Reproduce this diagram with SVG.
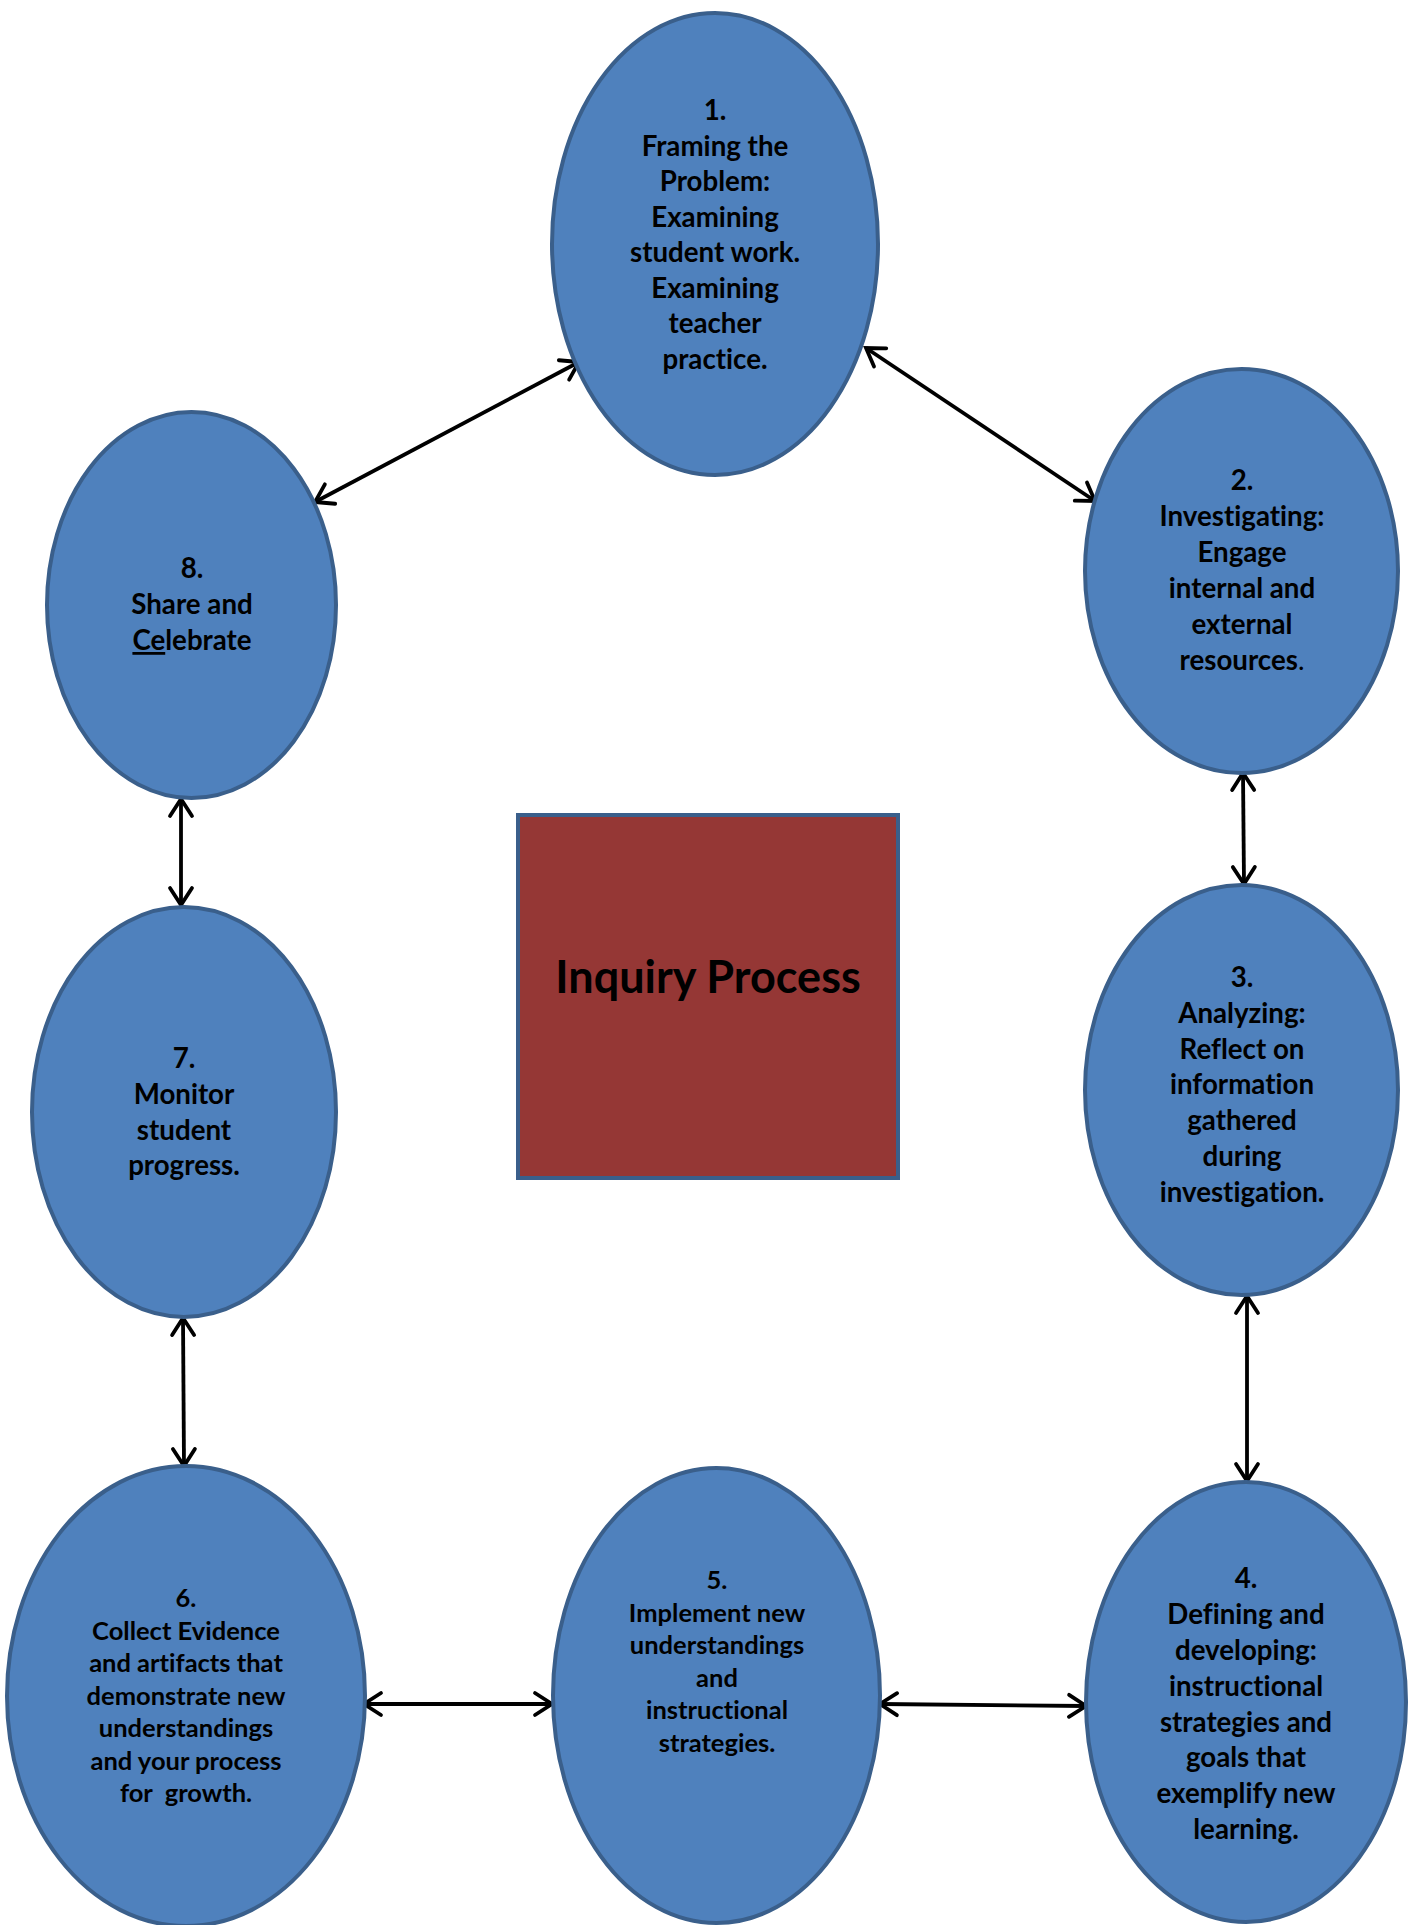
<svg xmlns="http://www.w3.org/2000/svg" width="1413" height="1925" viewBox="0 0 1413 1925">
<style>
.node{fill:#4F81BD;stroke:#3A5F8B;stroke-width:4}
.t{font-family:Lato,"Liberation Sans",sans-serif;font-weight:700;font-size:27.7px;fill:#000;text-anchor:middle;font-variant-ligatures:none}
.s{font-size:25.5px}
.title{font-family:Lato,"Liberation Sans",sans-serif;font-weight:700;font-size:45px;fill:#000;text-anchor:middle;font-variant-ligatures:none}
.c{stroke:#000;stroke-width:3.8;fill:none}
</style>
<defs>
<marker id="ah" markerUnits="userSpaceOnUse" viewBox="-22 -14 26 28" refX="0" refY="0" markerWidth="26" markerHeight="28" orient="auto-start-reverse">
<path d="M-17,-11 L0,0 L-17,11" fill="none" stroke="#000" stroke-width="3.8" stroke-linecap="round" stroke-linejoin="miter"/>
</marker>
</defs>
<rect width="1413" height="1925" fill="#fff"/>
<g id="connectors">
<line class="c" x1="315" y1="502" x2="579" y2="362" marker-start="url(#ah)" marker-end="url(#ah)"/>
<line class="c" x1="866" y1="348" x2="1095" y2="501" marker-start="url(#ah)" marker-end="url(#ah)"/>
<line class="c" x1="1243" y1="773" x2="1244" y2="884" marker-start="url(#ah)" marker-end="url(#ah)"/>
<line class="c" x1="1247" y1="1296" x2="1247" y2="1481" marker-start="url(#ah)" marker-end="url(#ah)"/>
<line class="c" x1="880" y1="1704" x2="1086" y2="1706" marker-start="url(#ah)" marker-end="url(#ah)"/>
<line class="c" x1="364" y1="1704" x2="552" y2="1704" marker-start="url(#ah)" marker-end="url(#ah)"/>
<line class="c" x1="183" y1="1318" x2="184" y2="1466" marker-start="url(#ah)" marker-end="url(#ah)"/>
<line class="c" x1="181" y1="799" x2="181" y2="905" marker-start="url(#ah)" marker-end="url(#ah)"/>
</g>
<g id="center">
<rect x="518" y="815" width="380" height="363" fill="#953735" stroke="#3A5F8B" stroke-width="4"/>
<text class="title" x="708" y="993">Inquiry Process</text>
</g>
<g id="n1">
<ellipse class="node" cx="715" cy="244" rx="163" ry="231"/>
<text class="t" x="715" y="120">1.</text>
<text class="t" x="715" y="155.5">Framing the</text>
<text class="t" x="715" y="191">Problem:</text>
<text class="t" x="715" y="226.5">Examining</text>
<text class="t" x="715" y="262">student work.</text>
<text class="t" x="715" y="297.5">Examining</text>
<text class="t" x="715" y="333">teacher</text>
<text class="t" x="715" y="368.5">practice.</text>
</g>
<g id="n2">
<ellipse class="node" cx="1241.5" cy="571" rx="156.5" ry="202"/>
<text class="t" x="1242" y="490">2.</text>
<text class="t" x="1242" y="526">Investigating:</text>
<text class="t" x="1242" y="562">Engage</text>
<text class="t" x="1242" y="598">internal and</text>
<text class="t" x="1242" y="634">external</text>
<text class="t" x="1242" y="670">resources<tspan font-weight="400">.</tspan></text>
</g>
<g id="n3">
<ellipse class="node" cx="1241.5" cy="1090" rx="156.5" ry="205"/>
<text class="t" x="1242" y="987">3.</text>
<text class="t" x="1242" y="1023">Analyzing:</text>
<text class="t" x="1242" y="1059">Reflect on</text>
<text class="t" x="1242" y="1094">information</text>
<text class="t" x="1242" y="1130">gathered</text>
<text class="t" x="1242" y="1166">during</text>
<text class="t" x="1242" y="1202">investigation.</text>
</g>
<g id="n4">
<ellipse class="node" cx="1246" cy="1702" rx="160" ry="220"/>
<text class="t" x="1246" y="1588">4.</text>
<text class="t" x="1246" y="1624">Defining and</text>
<text class="t" x="1246" y="1660">developing:</text>
<text class="t" x="1246" y="1696">instructional</text>
<text class="t" x="1246" y="1732">strategies and</text>
<text class="t" x="1246" y="1767">goals that</text>
<text class="t" x="1246" y="1803">exemplify new</text>
<text class="t" x="1246" y="1839">learning.</text>
</g>
<g id="n5">
<ellipse class="node" cx="716.5" cy="1695.5" rx="163.5" ry="227.5"/>
<text class="t s" x="717" y="1589">5.</text>
<text class="t s" x="717" y="1622">Implement new</text>
<text class="t s" x="717" y="1654">understandings</text>
<text class="t s" x="717" y="1687">and</text>
<text class="t s" x="717" y="1719">instructional</text>
<text class="t s" x="717" y="1752">strategies.</text>
</g>
<g id="n6">
<ellipse class="node" cx="186" cy="1696" rx="179" ry="230"/>
<text class="t s" x="186" y="1607">6.</text>
<text class="t s" x="186" y="1639.5">Collect Evidence</text>
<text class="t s" x="186" y="1672">and artifacts that</text>
<text class="t s" x="186" y="1704.5">demonstrate new</text>
<text class="t s" x="186" y="1737">understandings</text>
<text class="t s" x="186" y="1769.5">and your process</text>
<text class="t s" x="186" y="1802" style="white-space:pre">for  growth.</text>
</g>
<g id="n7">
<ellipse class="node" cx="184" cy="1112" rx="152" ry="205"/>
<text class="t" x="184" y="1068">7.</text>
<text class="t" x="184" y="1104">Monitor</text>
<text class="t" x="184" y="1139.5">student</text>
<text class="t" x="184" y="1175">progress.</text>
</g>
<g id="n8">
<ellipse class="node" cx="191.5" cy="605" rx="144.5" ry="193"/>
<text class="t" x="192" y="578">8.</text>
<text class="t" x="192" y="614">Share and</text>
<text class="t" x="192" y="650"><tspan text-decoration="underline">Ce</tspan>lebrate</text>
</g>
</svg>
